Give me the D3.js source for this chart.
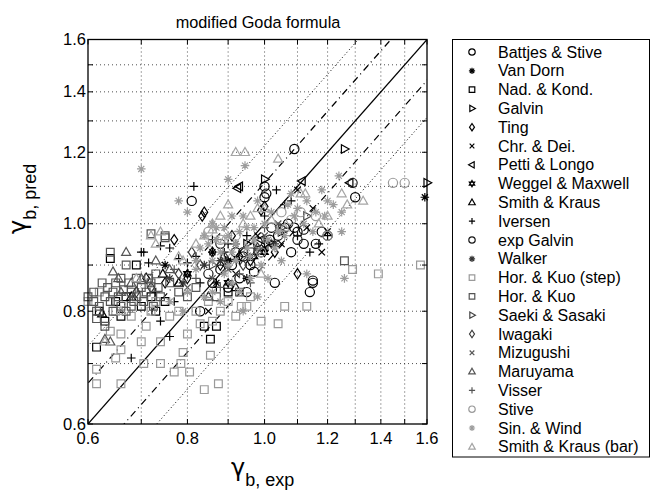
<!DOCTYPE html>
<html><head><meta charset="utf-8">
<script src="https://cdn.jsdelivr.net/npm/d3@7"></script>
<style>body{margin:0;background:#fff}text{font-family:"Liberation Sans",Arial,Helvetica,sans-serif;fill:#000}</style>
</head><body><svg id="chart" width="651" height="494"></svg>
<script>
const titleText = "modified Goda formula";
const tickValues = [0.6, 0.8, 1.0, 1.2, 1.4, 1.6];
const gridValues = [0.7, 0.8, 0.9, 1.0, 1.1, 1.2, 1.3, 1.4, 1.5];
const bandFactors = [1.11, 1.22];

const seriesNames = ["Battjes & Stive","Van Dorn","Nad. & Kond.","Galvin","Ting","Chr. & Dei.","Petti & Longo","Weggel & Maxwell","Smith & Kraus","Iversen","exp Galvin","Walker","Hor. & Kuo (step)","Hor. & Kuo","Saeki & Sasaki","Iwagaki","Mizugushi","Maruyama","Visser","Stive","Sin. & Wind","Smith & Kraus (bar)"];
const seriesMarkers = ["circle","asterisk","square","triRight","diamond","cross","triLeft","hexagram","triUp","plus","circle","asterisk","square","square","triRight","diamond","cross","triUp","plus","circle","asterisk","triUp"];
const seriesColors = ["#000","#000","#000","#000","#000","#000","#000","#000","#000","#000","#1a1a1a","#333","#9a9a9a","#555","#444","#3a3a3a","#555","#555","#555","#9a9a9a","#9c9c9c","#a5a5a5"];

const battjesStive = [[1.09,1.21],[0.81,1.06],[1.0,1.10],[1.005,1.08],[1.0,1.07],[1.02,0.99],[1.06,0.99],[1.09,0.99],[1.12,0.985],[1.10,0.98],[1.12,0.95],[1.16,0.95],[0.98,0.955],[1.015,0.96],[1.15,0.86],[1.15,0.865],[1.14,0.84],[1.03,0.86],[1.3,1.07],[1.2,0.97],[0.96,0.90],[0.93,0.87],[0.97,0.885],[0.99,0.93],[0.92,0.93],[0.88,0.89],[0.86,0.86],[0.95,0.84],[1.08,0.93],[1.07,1.0],[0.9,0.85],[0.83,0.80],[0.94,0.92],[0.91,0.90],[1.04,0.97],[1.18,0.98]];
const vanDorn = [[1.59,1.07],[0.75,0.90],[0.86,0.93],[0.90,0.91],[0.95,0.87],[1.0,0.94],[0.87,0.86]];
const nadKond = [[0.84,0.77],[0.87,0.77],[0.855,0.745],[0.64,0.915],[0.69,0.90],[0.62,0.80],[0.65,0.82],[0.67,0.83],[0.70,0.81],[0.73,0.80],[0.615,0.73],[0.75,0.82],[0.63,0.78],[0.66,0.79],[0.90,0.84],[0.72,0.83]];
const galvin = [[1.6,1.11],[1.26,1.21],[1.0,1.12],[0.90,0.91],[0.95,0.95],[1.05,0.98]];
const ting = [[0.84,1.03],[0.835,1.02],[0.77,0.96],[1.10,0.88],[1.0,1.045],[0.99,1.035],[0.88,0.90],[0.93,0.92],[0.96,0.91],[0.71,0.87],[0.80,0.87],[0.91,0.97],[1.03,0.93],[0.86,0.93],[0.75,0.86]];
const chrDei = [[1.10,1.09],[1.05,0.95],[1.13,0.99],[0.85,0.80],[1.20,0.98],[0.98,0.97],[1.15,1.04],[0.92,0.88],[1.18,0.93]];
const pettiLongo = [[0.93,1.10],[0.925,1.095],[1.115,1.115],[1.28,1.11],[0.99,0.96]];
const weggelMaxwell = [[0.97,0.92],[1.0,0.93],[0.80,0.88],[0.90,0.86],[1.02,0.95]];
const smithKraus = [[0.745,0.88],[0.625,0.795],[0.92,0.85],[0.85,0.83],[0.78,0.86],[0.68,0.83]];
const iversen = [[0.815,1.10],[0.70,0.93],[0.705,0.93],[0.715,0.905],[0.74,0.945],[0.76,0.94],[0.78,0.915],[0.80,0.905],[0.68,0.71],[0.76,0.75],[1.0,1.02],[1.035,1.09],[0.83,0.86],[0.87,0.85],[0.90,0.95],[0.95,0.97],[1.20,0.97],[1.17,0.95],[1.14,0.93],[0.74,0.78],[0.82,0.92],[0.73,0.84],[1.06,1.05],[1.10,0.97],[0.77,0.82],[0.86,0.96],[0.93,0.91],[0.97,0.94],[1.08,1.06],[0.89,0.93]];
const expGalvin = [[1.29,1.11],[0.88,0.95],[0.94,0.93],[1.10,0.96],[0.85,0.88]];
const walker = [[0.88,0.91],[0.79,0.86],[1.03,0.95],[0.76,0.87],[0.92,0.95],[0.84,0.90]];
const horKuoStep = [[0.615,0.665],[0.66,0.665],[0.615,0.69],[0.65,0.71],[0.66,0.725],[0.705,0.70],[0.74,0.70],[0.77,0.685],[0.785,0.70],[0.805,0.685],[0.79,0.72],[0.80,0.755],[0.84,0.655],[0.875,0.665],[0.855,0.715],[0.92,0.79],[0.935,0.81],[0.95,0.81],[0.99,0.78],[1.04,0.775],[1.06,0.81],[1.13,0.81],[1.29,0.89],[1.39,0.88],[1.57,0.90],[0.60,0.82],[0.62,0.84],[0.65,0.80],[0.68,0.79],[0.71,0.77],[0.72,0.80],[0.76,0.79],[0.78,0.80],[0.82,0.80],[0.85,0.82],[0.88,0.80],[0.90,0.82],[0.74,0.74],[0.70,0.74],[0.86,0.78],[0.64,0.76],[0.66,0.755],[0.83,0.775],[0.96,0.83],[0.73,0.82]];
const horKuo = [[0.60,0.83],[0.61,0.82],[0.615,0.80],[0.62,0.81],[0.63,0.83],[0.635,0.85],[0.64,0.82],[0.645,0.84],[0.65,0.86],[0.655,0.83],[0.66,0.81],[0.665,0.845],[0.67,0.80],[0.675,0.86],[0.68,0.84],[0.685,0.82],[0.69,0.87],[0.70,0.85],[0.705,0.82],[0.71,0.84],[0.72,0.86],[0.725,0.81],[0.735,0.85],[0.74,0.83],[0.75,0.97],[0.72,0.975],[0.75,0.965],[0.64,0.93],[0.67,0.90],[0.78,0.84],[0.80,0.83],[0.76,0.86],[0.82,0.85],[0.615,0.785],[0.63,0.77],[0.87,0.83],[0.93,0.84],[1.26,0.91],[0.61,0.84],[0.625,0.86],[0.66,0.87],[0.69,0.83],[0.715,0.87],[0.73,0.88],[0.645,0.80],[0.68,0.81]];
const saekiSasaki = [[0.98,0.93],[1.05,0.99],[0.86,0.90],[1.13,1.02]];
const iwagaki = [[0.78,0.88],[0.83,0.90],[0.89,0.92],[0.72,0.85],[0.94,0.90],[0.98,0.94],[0.81,0.93],[0.69,0.84]];
const mizugushi = [[0.86,0.87],[0.90,0.89],[0.95,0.92],[0.80,0.85],[1.0,0.97],[1.04,1.0]];
const maruyama = [[0.67,0.93],[0.70,0.87],[0.645,0.885],[0.655,0.87],[0.66,0.84],[0.73,0.91],[0.76,0.89],[0.68,0.86],[0.63,0.745],[0.64,0.74]];
const visser = [[0.77,0.89],[0.82,0.87],[0.88,0.85],[0.93,0.88],[0.72,0.86],[1.0,0.99],[0.96,0.86]];
const stive = [[1.45,1.11],[1.50,1.11],[1.11,1.03],[1.20,0.97],[0.99,0.93],[1.08,1.01],[0.96,0.95],[0.92,0.97],[1.05,1.03],[0.88,0.96],[1.16,1.02],[0.85,0.98]];
const sinWind = [[0.70,1.15],[0.78,1.06],[0.80,1.03],[0.945,1.16],[0.90,1.12],[0.91,1.02],[0.94,1.02],[1.07,1.05],[1.10,1.04],[1.13,1.06],[1.16,1.03],[1.19,1.02],[1.22,1.05],[1.25,1.03],[1.26,0.87],[0.85,0.95],[0.88,0.93],[0.90,0.90],[0.92,0.95],[0.95,0.99],[0.97,0.96],[1.0,1.0],[1.02,1.03],[1.04,0.98],[0.86,0.91],[0.83,0.94],[0.87,0.99],[0.93,0.98],[1.08,1.08],[1.18,1.09],[1.24,1.13],[0.98,1.06],[0.89,0.88],[0.91,0.86],[0.93,0.84],[0.96,0.87],[0.99,0.90],[1.03,0.94],[1.06,0.97],[0.82,0.89],[0.76,0.82],[0.79,0.80],[0.84,0.83],[0.88,0.82],[0.94,0.80],[1.12,1.0],[1.15,0.98],[0.98,0.83],[1.01,0.87],[1.25,0.98],[0.90,0.97],[0.86,1.0],[1.13,0.88],[1.05,0.91],[0.87,0.96],[0.89,0.99],[0.91,0.93],[0.95,0.94],[0.97,0.99],[1.01,0.96],[0.84,0.97],[0.82,0.91],[0.92,0.91],[0.96,0.92],[1.09,1.02],[1.20,1.06],[0.80,0.84],[0.86,0.84]];
const smithKrausBar = [[0.92,1.20],[0.945,1.20],[1.04,1.18],[0.86,1.0],[0.86,0.985],[0.73,0.95],[0.72,0.97],[0.74,0.98],[0.98,1.04],[1.11,1.08],[1.125,1.08],[1.33,1.06],[1.27,1.05],[1.25,1.08],[0.82,0.95],[0.90,1.05],[1.0,1.04],[1.06,0.99],[1.17,1.0],[0.88,1.02],[0.94,1.0],[0.99,0.88],[1.20,1.02],[0.79,0.91],[0.66,0.80],[0.63,0.74],[0.84,0.97],[0.89,0.96],[0.96,1.02],[1.02,1.01],[0.78,0.92],[0.69,0.87]];

const seriesData = [battjesStive,vanDorn,nadKond,galvin,ting,chrDei,pettiLongo,weggelMaxwell,smithKraus,iversen,expGalvin,walker,horKuoStep,horKuo,saekiSasaki,iwagaki,mizugushi,maruyama,visser,stive,sinWind,smithKrausBar];

const svg = d3.select("#chart");
svg.append("rect").attr("width",651).attr("height",494).attr("fill","#fff");
const L=88, R=427, T=39.5, B=424;
const x = d3.scaleLog().domain([0.6,1.6]).range([L,R]);
const y = d3.scaleLog().domain([0.6,1.6]).range([B,T]);

function markerPath(type, s){
  const p = d3.path();
  const tri = (pts)=>{p.moveTo(pts[0][0],pts[0][1]);pts.slice(1).forEach(q=>p.lineTo(q[0],q[1]));p.closePath();};
  switch(type){
    case "circle": p.moveTo(s,0); p.arc(0,0,s,0,2*Math.PI); break;
    case "square": p.rect(-s*0.9,-s*0.9,s*1.8,s*1.8); break;
    case "triRight": tri([[s*1.1,0],[-s*0.7,-s*1.0],[-s*0.7,s*1.0]]); break;
    case "triLeft": tri([[-s*1.1,0],[s*0.7,-s*1.0],[s*0.7,s*1.0]]); break;
    case "triUp": tri([[0,-s*1.1],[s*1.05,s*0.75],[-s*1.05,s*0.75]]); break;
    case "diamond": tri([[0,-s*1.2],[s*0.8,0],[0,s*1.2],[-s*0.8,0]]); break;
    case "cross": p.moveTo(-s*0.75,-s*0.75);p.lineTo(s*0.75,s*0.75);p.moveTo(-s*0.75,s*0.75);p.lineTo(s*0.75,-s*0.75); break;
    case "plus": p.moveTo(-s,0);p.lineTo(s,0);p.moveTo(0,-s);p.lineTo(0,s); break;
    case "asterisk": p.moveTo(-s,0);p.lineTo(s,0);p.moveTo(0,-s);p.lineTo(0,s);
      p.moveTo(-s*0.7,-s*0.7);p.lineTo(s*0.7,s*0.7);p.moveTo(-s*0.7,s*0.7);p.lineTo(s*0.7,-s*0.7); break;
    case "hexagram": tri([[0,-s],[s*0.87,s*0.5],[-s*0.87,s*0.5]]); tri([[0,s],[s*0.87,-s*0.5],[-s*0.87,-s*0.5]]); break;
  }
  return p.toString();
}

svg.append("clipPath").attr("id","plotclip").append("rect").attr("x",L).attr("y",T).attr("width",R-L).attr("height",B-T);

// grid
const g = svg.append("g");
g.selectAll(".gx").data(gridValues).join("line")
  .attr("x1",d=>x(d)).attr("x2",d=>x(d)).attr("y1",T).attr("y2",B)
  .attr("stroke","#222").attr("stroke-width",0.8).attr("stroke-dasharray","1,3");
g.selectAll(".gy").data(gridValues).join("line")
  .attr("y1",d=>y(d)).attr("y2",d=>y(d)).attr("x1",L).attr("x2",R)
  .attr("stroke","#222").attr("stroke-width",0.8).attr("stroke-dasharray","1,3");

// reference lines y = f * x
const lineG = svg.append("g").attr("clip-path","url(#plotclip)");
const lineDefs = [
  {f:1, dash:null, w:1.2},
  {f:bandFactors[0], dash:"7,4,1,4", w:1.2},
  {f:1/bandFactors[0], dash:"7,4,1,4", w:1.2},
  {f:bandFactors[1], dash:"1,2.5", w:1},
  {f:1/bandFactors[1], dash:"1,2.5", w:1}
];
lineDefs.forEach(ld=>{
  const x0 = 0.5, x1 = 1.8;
  lineG.append("line")
    .attr("x1",x(x0)).attr("y1",y(x0*ld.f))
    .attr("x2",x(x1)).attr("y2",y(x1*ld.f))
    .attr("stroke","#000").attr("stroke-width",ld.w)
    .attr("stroke-dasharray",ld.dash);
});

// points
const pts = svg.append("g");
seriesData.forEach((data,i)=>{
  pts.append("g").selectAll("path").data(data).join("path")
    .attr("transform",d=>`translate(${x(d[0])},${y(d[1])})`)
    .attr("d",markerPath(seriesMarkers[i], seriesMarkers[i]==="circle"?4.6:4.3))
    .attr("fill","none").attr("stroke",seriesColors[i]).attr("stroke-width",1.2);
});

// frame
svg.append("rect").attr("x",L).attr("y",T).attr("width",R-L).attr("height",B-T)
  .attr("fill","none").attr("stroke","#000").attr("stroke-width",1.3);
const allTicks = Array.from(new Set(tickValues.concat(gridValues)));
allTicks.forEach(v=>{
  [[x(v),B,x(v),B-5],[x(v),T,x(v),T+5],[L,y(v),L+5,y(v)],[R,y(v),R-5,y(v)]].forEach(c=>{
    svg.append("line").attr("x1",c[0]).attr("y1",c[1]).attr("x2",c[2]).attr("y2",c[3]).attr("stroke","#000").attr("stroke-width",1);
  });
});
svg.append("g").selectAll("text").data(tickValues).join("text")
  .attr("x",d=>x(d)).attr("y",444).attr("text-anchor","middle").attr("font-size",16.5)
  .text(d=>d3.format(".1f")(d));
svg.append("g").selectAll("text").data(tickValues).join("text")
  .attr("x",86).attr("y",d=>y(d)+5.5).attr("text-anchor","end").attr("font-size",16.5)
  .text(d=>d3.format(".1f")(d));

svg.append("text").attr("x",258).attr("y",28).attr("text-anchor","middle").attr("font-size",16.3).text(titleText);

const xl = svg.append("text").attr("x",231).attr("y",476).attr("font-size",24);
xl.append("tspan").attr("font-family","'DejaVu Sans'").text("γ");
xl.append("tspan").attr("font-size",18).attr("dy",10).text("b, exp");
const yl = svg.append("text").attr("transform","translate(26,234) rotate(-90)").attr("font-size",24);
yl.append("tspan").attr("font-family","'DejaVu Sans'").text("γ");
yl.append("tspan").attr("font-size",18).attr("dy",10).text("b, pred");

const lg = svg.append("g");
lg.append("rect").attr("x",452.5).attr("y",39.5).attr("width",197).attr("height",417.5)
  .attr("fill","#fff").attr("stroke","#000").attr("stroke-width",1);
seriesNames.forEach((n,i)=>{
  const cy = 52 + i*18.8;
  lg.append("path").attr("transform",`translate(472,${cy})`)
    .attr("d",markerPath(seriesMarkers[i], seriesMarkers[i]==="circle"?3.2:3.1))
    .attr("fill","none").attr("stroke",seriesColors[i]).attr("stroke-width",1.2);
  lg.append("text").attr("x",498).attr("y",cy+5.5).attr("font-size",16).text(n);
});
</script></body></html>
